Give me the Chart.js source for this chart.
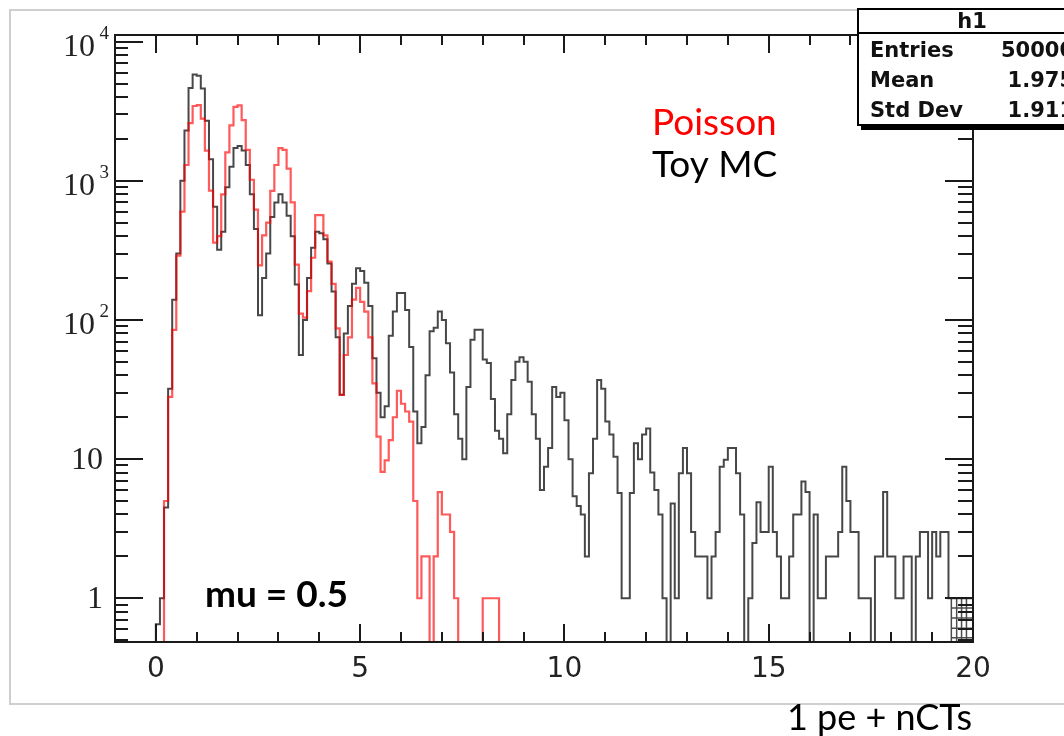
<!DOCTYPE html>
<html>
<head>
<meta charset="utf-8">
<script src="https://cdn.jsdelivr.net/npm/chart.js@4.4.1/dist/chart.umd.min.js"></script>
<style>
  html, body { margin: 0; padding: 0; background: #fff; }
  #wrap { width: 1064px; height: 736px; position: relative; overflow: hidden; }
</style>
</head>
<body>
<div id="wrap"><canvas id="histo" width="1064" height="736"></canvas></div>
<script>
// Histogram binning: 210 bins of 0.1 from -1 to 20
const xMin = -1;
const xMax = 20;
const binWidth = 0.1;

// Bin contents, one row per unit of x (-1.0 ... 19.9)
const poissonCounts = [
  0, 0, 0, 0, 0, 0, 0, 0, 0, 0,
  0, 0, 5, 28, 85, 290, 600, 1300, 2600, 3450,
  3500, 2800, 1650, 850, 360, 400, 800, 1600, 2500, 3400,
  3490, 2730, 1670, 1018, 622, 247, 405, 500, 847, 1300,
  1720, 1667, 1225, 700, 250, 111, 104, 161, 280, 567,
  567, 405, 263, 182, 87, 29, 56, 75, 140, 170,
  135, 115, 75, 35, 14.5, 8.1, 9.8, 13.7, 20, 31,
  25, 22, 18.6, 5, 1, 2, 2, 0, 2, 5.8,
  4, 4, 3, 1, 0, 0, 0, 0, 0, 0,
  1, 1, 1, 1, 0, 0, 0, 0, 0, 0,
  0, 0, 0, 0, 0, 0, 0, 0, 0, 0,
  0, 0, 0, 0, 0, 0, 0, 0, 0, 0,
  0, 0, 0, 0, 0, 0, 0, 0, 0, 0,
  0, 0, 0, 0, 0, 0, 0, 0, 0, 0,
  0, 0, 0, 0, 0, 0, 0, 0, 0, 0,
  0, 0, 0, 0, 0, 0, 0, 0, 0, 0,
  0, 0, 0, 0, 0, 0, 0, 0, 0, 0,
  0, 0, 0, 0, 0, 0, 0, 0, 0, 0,
  0, 0, 0, 0, 0, 0, 0, 0, 0, 0,
  0, 0, 0, 0, 0, 0, 0, 0, 0, 0,
  0, 0, 0, 0, 0, 0, 0, 0, 0, 0
];

const toyMcCounts = [
  0, 0, 0, 0, 0, 0, 0, 0, 0, 0,
  0.65, 1, 4.5, 32, 140, 300, 1000, 2300, 4650, 5800,
  5700, 4600, 2700, 1430, 650, 320, 430, 900, 1260, 1720,
  1780, 1650, 1300, 800, 450, 108, 200, 300, 550, 700,
  800, 700, 560, 400, 180, 56, 100, 200, 330, 430,
  420, 380, 255, 160, 75, 29, 80, 126, 182, 235,
  225, 185, 126, 53, 30, 20, 24, 77, 115, 156,
  156, 118, 64, 22, 13, 17, 40, 83, 88, 115,
  100, 68, 42, 21, 14, 10, 33, 72, 85, 85,
  52, 49, 27, 16, 14, 11, 21, 37, 50, 54,
  50, 36, 21, 14, 6, 8.8, 12, 33, 28, 30,
  19, 10, 5.4, 4.6, 4, 2, 7.9, 14, 37, 32,
  18.6, 15, 10.4, 5.7, 1, 1, 5.7, 13, 10, 15,
  16.6, 8, 6, 4, 1, 0, 4.8, 1, 7.9, 12,
  7.9, 3, 2, 2, 2, 1, 2, 3, 8.8, 9.9,
  12, 12, 7.9, 4, 0, 1, 2.5, 4.9, 3, 3,
  8.8, 3, 2, 1, 1, 2, 4, 4, 6.9, 5.8,
  0, 4, 1, 1, 2, 2, 2, 3, 8.8, 5,
  3, 3, 1, 1, 1, 0, 2, 2, 5.8, 2,
  2, 1, 1, 2, 2, 0, 2, 3, 3, 1,
  3, 2, 3, 3, 1, 1, 1, 1, 1, 1
];

// Axis ranges and tick labels
const yMin = 0.485;
const yMax = 11170;
const xTickLabels = [0, 5, 10, 15, 20];
const yTickDecades = [0, 1, 2, 3, 4];

// Stats box contents
const statNames = ["Entries", "Mean", "Std Dev"];
const statValues = ["50000", "1.975", "1.911"];

// Leftover hatch drawn by the viewer in the last empty bins
const hatchX = [19.47, 19.6, 19.72, 19.84];
const hatchY = [0.85, 0.72, 0.61, 0.52];

// Turn bin contents into step points; empty bins sit on the bottom axis
function toSteps(counts) {
    const pts = counts.map((c, i) => ({ x: xMin + i * binWidth, y: Math.max(c, yMin) }));
    pts.push({ x: xMin + counts.length * binWidth, y: Math.max(counts[counts.length - 1], yMin) });
    return pts;
}

const rootFrame = {
    id: 'rootFrame',
    beforeDraw(chart) {
        const ctx = chart.ctx;
        ctx.save();
        ctx.fillStyle = '#ffffff';
        ctx.fillRect(0, 0, chart.width, chart.height);
        // outer pad border
        ctx.strokeStyle = '#cfcfcf';
        ctx.lineWidth = 2;
        ctx.beginPath();
        ctx.moveTo(1070, 10);
        ctx.lineTo(10, 10);
        ctx.lineTo(10, 704);
        ctx.lineTo(1070, 704);
        ctx.stroke();
        ctx.restore();
    },
    afterDatasetsDraw(chart) {
        const ctx = chart.ctx;
        const xs = chart.scales.x;
        const ys = chart.scales.y;
        const a = chart.chartArea;
        ctx.save();
        ctx.strokeStyle = 'rgba(0, 0, 0, 0.7)';
        ctx.lineWidth = 1.5;
        ctx.beginPath();
        const x0 = xs.getPixelForValue(hatchX[0]);
        const y0 = ys.getPixelForValue(1);
        hatchX.forEach(v => {
            const px = xs.getPixelForValue(v);
            ctx.moveTo(px, y0);
            ctx.lineTo(px, a.bottom);
        });
        hatchY.forEach(v => {
            const py = ys.getPixelForValue(v);
            ctx.moveTo(x0, py);
            ctx.lineTo(a.right, py);
        });
        ctx.stroke();
        ctx.restore();
    },
    afterDraw(chart) {
        const ctx = chart.ctx;
        const a = chart.chartArea;
        const xs = chart.scales.x;
        const ys = chart.scales.y;
        ctx.save();

        // axis frame
        ctx.strokeStyle = '#1a1a1a';
        ctx.lineWidth = 2;
        ctx.strokeRect(a.left, a.top, a.right - a.left, a.bottom - a.top);

        // x ticks, bottom and top
        for (let v = Math.ceil(xMin) + 1; v < xMax; v++) {
            const px = Math.round(xs.getPixelForValue(v));
            const len = xTickLabels.includes(v) ? 18 : 10;
            ctx.beginPath();
            ctx.moveTo(px, a.bottom);
            ctx.lineTo(px, a.bottom - len);
            ctx.moveTo(px, a.top);
            ctx.lineTo(px, a.top + len);
            ctx.stroke();
        }

        // y ticks, left and right
        for (let e = -1; e <= 4; e++) {
            for (let m = 1; m <= 9; m++) {
                const val = m * Math.pow(10, e);
                if (val < yMin || val > yMax) continue;
                const py = Math.round(ys.getPixelForValue(val));
                const major = m === 1;
                ctx.beginPath();
                ctx.moveTo(a.left, py);
                ctx.lineTo(a.left + (major ? 28 : 13), py);
                ctx.moveTo(a.right, py);
                ctx.lineTo(a.right - (major ? 28 : 15), py);
                ctx.stroke();
            }
        }

        // x tick labels
        ctx.fillStyle = '#222';
        ctx.font = '28px "DejaVu Sans"';
        ctx.textAlign = 'center';
        ctx.textBaseline = 'alphabetic';
        xTickLabels.forEach(v => {
            ctx.fillText(String(v), xs.getPixelForValue(v), a.bottom + 35);
        });

        // y tick labels, powers of ten
        ctx.textBaseline = 'middle';
        yTickDecades.forEach(e => {
            const py = ys.getPixelForValue(Math.pow(10, e));
            ctx.textAlign = 'right';
            if (e < 2) {
                ctx.font = '32px "Liberation Serif"';
                ctx.fillText(e === 0 ? '1' : '10', 103, py + 1);
            } else {
                ctx.font = '19px "Liberation Serif"';
                ctx.fillText(String(e), 109, py - 8);
                ctx.font = '32px "Liberation Serif"';
                ctx.fillText('10', 95, py + 6);
            }
        });

        // annotations
        ctx.textBaseline = 'alphabetic';
        ctx.textAlign = 'left';
        ctx.font = '37px Lato';
        ctx.fillStyle = '#ff0000';
        ctx.fillText('Poisson', 652, 135);
        ctx.fillStyle = '#000';
        ctx.fillText('Toy MC', 652, 177);
        ctx.font = 'bold 37px Lato';
        ctx.fillText('mu = 0.5', 205, 607);
        ctx.font = '36px Lato';
        ctx.fillText('1 pe + nCTs', 787, 730);

        // stats box
        const bx = 858, by = 9, bw = 230, bh = 116;
        ctx.fillStyle = '#000';
        ctx.fillRect(bx + 3, by + 3, bw, bh + 2);
        ctx.fillStyle = '#fff';
        ctx.fillRect(bx, by, bw, bh);
        ctx.strokeStyle = '#000';
        ctx.lineWidth = 2;
        ctx.strokeRect(bx, by, bw, bh);
        ctx.beginPath();
        ctx.moveTo(bx, 33);
        ctx.lineTo(bx + bw, 33);
        ctx.stroke();
        ctx.fillStyle = '#111';
        ctx.font = 'bold 21px "DejaVu Sans"';
        ctx.textAlign = 'center';
        ctx.fillText('h1', 972, 28);
        statNames.forEach((name, i) => {
            const base = 57 + i * 30;
            ctx.textAlign = 'left';
            ctx.fillText(name, 870, base);
            ctx.textAlign = 'right';
            ctx.fillText(statValues[i], 1074, base);
        });

        ctx.restore();
    }
};

new Chart(document.getElementById('histo'), {
    type: 'line',
    data: {
        datasets: [
            {
                label: 'Poisson',
                data: toSteps(poissonCounts),
                stepped: 'before',
                borderColor: 'rgba(255, 0, 0, 0.65)',
                borderWidth: 2.2,
                pointRadius: 0,
                fill: false
            },
            {
                label: 'Toy MC',
                data: toSteps(toyMcCounts),
                stepped: 'before',
                borderColor: 'rgba(0, 0, 0, 0.72)',
                borderWidth: 2,
                pointRadius: 0,
                fill: false
            }
        ]
    },
    options: {
        responsive: false,
        animation: false,
        devicePixelRatio: 1,
        parsing: false,
        layout: { padding: { left: 115, top: 35, right: 91, bottom: 94 } },
        scales: {
            x: { type: 'linear', min: xMin, max: xMax, display: false },
            y: { type: 'logarithmic', min: yMin, max: yMax, display: false }
        },
        plugins: {
            legend: { display: false },
            tooltip: { enabled: false }
        }
    },
    plugins: [rootFrame]
});
</script>
</body>
</html>
